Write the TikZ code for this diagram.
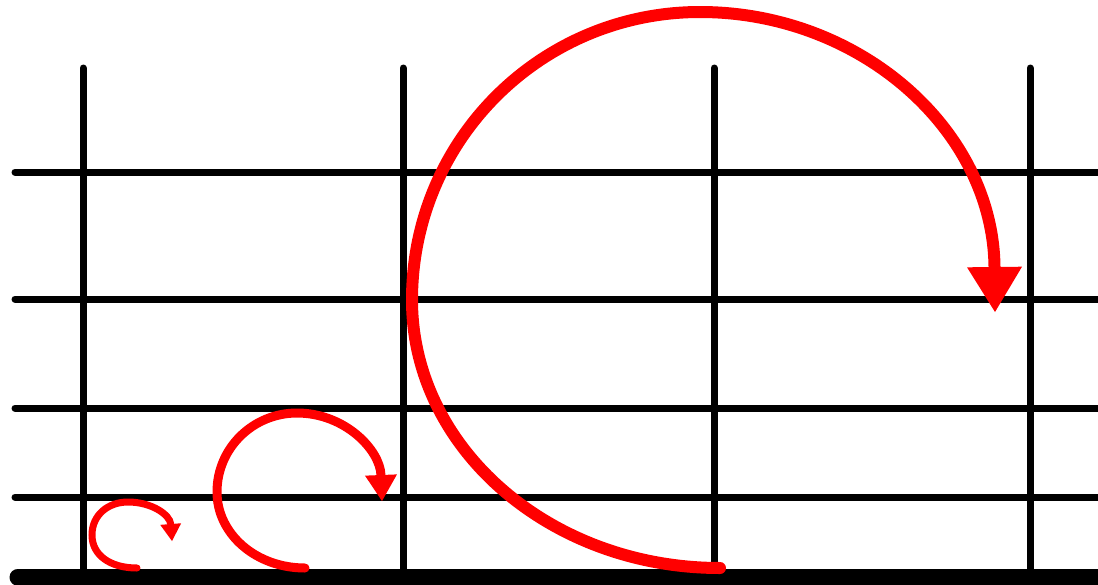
\documentclass[tikz,border=0pt]{standalone}
\usetikzlibrary{arrows.meta}
\begin{document}
\begin{tikzpicture}[x=1pt,y=-1pt,
  gridline/.style={black,line width=7pt,line cap=round},
  baseline/.style={black,line width=17pt,line cap=round},
  loopline/.style={red,line cap=round}]
\useasboundingbox (0,0) rectangle (1098,584);
% vertical lines
\foreach \x in {83,403,714,1030}
  \draw[gridline] (\x,68) -- (\x,576);
% horizontal lines
\foreach \y in {172,299,408,497}
  \draw[gridline] (15,\y) -- (1110,\y);
% thick base line
\draw[baseline] (18,577) -- (1110,577);
% small loop
\draw[loopline,line width=7pt,-{Triangle[width=21pt,length=17pt,line width=0pt]}]
  (137,568) .. controls (110,568) and (92,555) .. (92,535)
            .. controls (92,515) and (108,502) .. (128,502)
            .. controls (152,502) and (170,515) .. (172,541);
% medium loop
\draw[loopline,line width=9pt,-{Triangle[width=32pt,length=26pt,line width=0pt]}]
  (305,568) .. controls (256,568) and (217,534) .. (217,492)
            .. controls (217,448) and (253,413) .. (297,413)
            .. controls (345,413) and (380,450) .. (382,501);
% large loop
\draw[loopline,line width=12pt,-{Triangle[width=55pt,length=45pt,line width=0pt]}]
  (720,568) .. controls (550,568) and (412,448) .. (412,300)
            .. controls (412,140) and (541,12) .. (700,12)
            .. controls (860,12) and (993,130) .. (995,312);
\end{tikzpicture}
\end{document}
